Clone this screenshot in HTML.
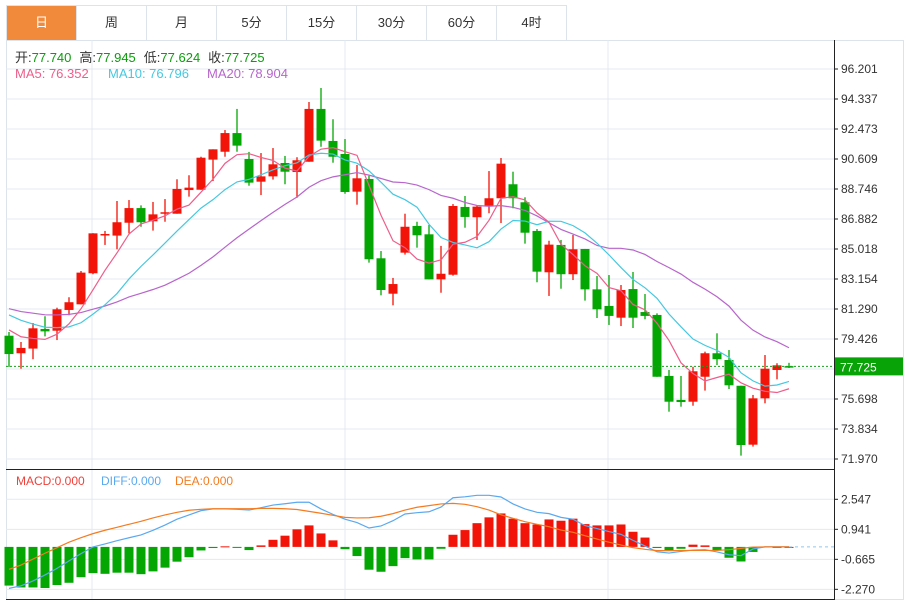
<!DOCTYPE html>
<html><head><meta charset="utf-8">
<style>
body{margin:0;background:#fff;width:911px;height:602px;overflow:hidden;font-family:"Liberation Sans","Noto Sans CJK SC",sans-serif;}
#tabs{position:absolute;left:6px;top:5px;height:35px;display:flex;}
.tab{width:69px;height:34px;border:1px solid #dde3ea;border-left:none;text-align:center;line-height:34px;font-size:13px;color:#333;background:#fff;}
.tab.first{background:#f28a3c;color:#fff;border-left:1px solid #dde3ea;}
svg{position:absolute;left:0;top:0;}
</style></head><body>
<div id="tabs">
<div class="tab first">日</div>
<div class="tab">周</div>
<div class="tab">月</div>
<div class="tab">5分</div>
<div class="tab">15分</div>
<div class="tab">30分</div>
<div class="tab">60分</div>
<div class="tab">4时</div>
</div>
<svg id="chart" width="911" height="602"></svg>
<script>
const opens=[79.63,78.54,78.83,80.05,79.94,81.23,81.58,83.51,85.87,85.85,86.65,87.56,86.74,87.21,87.21,88.68,88.70,90.57,91.06,92.22,90.61,89.20,89.53,90.36,89.80,90.44,93.72,91.73,90.92,88.58,89.37,84.44,82.24,84.79,86.45,85.93,83.13,83.42,87.63,86.99,87.71,88.17,89.04,87.92,86.14,83.57,85.27,83.45,85.02,82.51,81.48,80.75,82.53,81.10,80.92,77.13,75.64,75.53,77.08,78.54,78.12,76.52,72.86,75.74,77.50,77.740];
const highs=[79.86,79.24,80.42,80.84,81.37,82.02,83.65,86.00,86.14,88.00,88.06,87.73,87.94,88.12,89.35,89.60,90.75,91.21,92.41,93.72,91.05,90.98,91.29,90.80,90.72,94.15,95.02,93.08,91.85,90.24,89.57,84.89,83.22,87.21,86.71,86.51,85.21,87.81,88.31,87.69,89.86,90.67,89.82,88.23,86.26,85.53,85.58,85.89,85.02,83.34,83.40,82.78,83.59,82.22,81.02,77.50,77.13,77.70,78.64,79.78,78.74,76.52,75.95,78.43,77.92,77.945];
const lows=[77.69,77.58,78.17,79.59,79.36,80.90,81.58,83.45,85.27,85.00,85.99,86.40,86.16,86.71,87.21,88.27,88.70,89.24,90.75,91.06,88.95,88.37,89.33,89.04,88.20,90.44,91.37,90.38,88.45,87.77,84.17,82.14,81.52,84.67,85.10,83.13,82.30,83.36,86.34,85.58,87.24,86.63,87.55,85.35,82.95,82.10,82.55,83.09,81.81,80.73,80.30,80.23,80.11,80.65,77.08,74.91,75.22,75.28,76.22,77.81,76.32,72.18,72.74,75.43,76.92,77.624];
const closes=[78.49,78.87,80.09,79.90,81.27,81.71,83.55,85.99,85.95,86.68,87.56,86.68,87.17,87.30,88.75,88.83,90.69,91.21,92.22,91.44,89.14,89.53,90.28,89.82,90.53,93.72,91.75,90.75,88.56,89.41,84.38,82.47,82.84,86.40,85.87,83.13,83.48,87.69,87.01,87.65,88.17,90.32,88.17,86.03,83.61,85.29,83.45,85.00,82.51,81.27,80.86,82.47,80.75,80.86,77.08,75.53,75.51,77.42,78.54,78.17,76.55,72.84,75.74,77.58,77.79,77.725];
const priorCloses=[82.5,82.1,81.9,81.4,81.0,81.3,81.8,82.0,81.6,81.4,82.2,82.4,81.9,81.5,81.25,81.0,80.6,80.2,79.66];
const macdHist=[-2.07,-2.17,-2.17,-2.2,-2.04,-1.92,-1.62,-1.40,-1.44,-1.38,-1.38,-1.46,-1.31,-1.11,-0.79,-0.55,-0.19,-0.06,0.03,-0.05,-0.17,0.08,0.38,0.6,0.94,1.15,0.72,0.35,-0.12,-0.49,-1.22,-1.33,-1.03,-0.6,-0.67,-0.67,-0.1,0.65,0.9,1.27,1.58,1.79,1.51,1.27,1.2,1.47,1.40,1.51,1.22,1.15,1.15,1.2,0.81,0.5,-0.06,-0.2,-0.1,0.12,0.08,-0.19,-0.58,-0.78,-0.27,0.02,0,0];
const diffLine=[-2.22,-2.08,-1.82,-1.50,-1.15,-0.75,-0.36,0,0.16,0.33,0.49,0.64,0.89,1.17,1.48,1.71,1.94,2.03,2.03,2.01,1.97,2.10,2.24,2.31,2.39,2.39,2.03,1.74,1.48,1.30,1.01,1.12,1.40,1.76,1.83,1.88,2.13,2.63,2.68,2.76,2.76,2.67,2.30,2.03,1.85,1.78,1.58,1.48,1.14,0.98,0.82,0.67,0.35,0.05,-0.26,-0.33,-0.24,-0.17,-0.15,-0.27,-0.42,-0.47,-0.11,0,0,0];
const deaLine=[-1.20,-0.97,-0.65,-0.34,-0.04,0.25,0.49,0.71,0.89,1.05,1.21,1.37,1.55,1.71,1.85,1.96,2.01,2.04,2.04,2.04,2.04,2.06,2.06,2.04,2.0,1.9,1.80,1.69,1.58,1.55,1.56,1.64,1.78,1.97,2.12,2.21,2.30,2.33,2.28,2.15,1.97,1.72,1.53,1.35,1.21,1.08,0.90,0.78,0.60,0.42,0.25,0.10,-0.04,-0.13,-0.2,-0.2,-0.19,-0.19,-0.19,-0.19,-0.15,-0.08,-0.01,0,0,0];
const priceTicks=[96.201,94.337,92.473,90.609,88.746,86.882,85.018,83.154,81.290,79.426,77.562,75.698,73.834,71.970];
const macdTicks=[2.547,0.941,-0.665,-2.270];

const NS='http://www.w3.org/2000/svg';
const svg=document.getElementById('chart');
function mk(tag,attrs,parent){const e=document.createElementNS(NS,tag);for(const k in attrs)e.setAttribute(k,attrs[k]);(parent||svg).appendChild(e);return e;}
const PTOP=96.201,PBOT=71.970,Y0=69,Y1=459;
function yP(v){return Y0+(PTOP-v)/(PTOP-PBOT)*(Y1-Y0);}
const MZ=546.9,MS=18.69;
function yM(v){return MZ-v*MS;}
function xI(i){return 9+12*i;}

// frame
let g=mk('g',{});


mk('rect',{x:6.5,y:40.5,width:897,height:559,fill:'none',stroke:'#dde3ea'},g);
[92,345,608].forEach(x=>mk('line',{x1:x,y1:40,x2:x,y2:599,stroke:'#e3eaf0'},g));
priceTicks.forEach(v=>mk('line',{x1:6,y1:yP(v),x2:834,y2:yP(v),stroke:'#e3eaf0'},g));
macdTicks.forEach(v=>mk('line',{x1:6,y1:yM(v),x2:834,y2:yM(v),stroke:'#e3eaf0'},g));
mk('line',{x1:6,y1:469.5,x2:834,y2:469.5,stroke:'#222'},g);
mk('line',{x1:6,y1:599.5,x2:834,y2:599.5,stroke:'#222'},g);
mk('line',{x1:834.5,y1:40,x2:834.5,y2:600,stroke:'#222'},g);

// axis labels
const ax=mk('g',{'font-size':'12','fill':'#333','font-family':'Liberation Sans, sans-serif'});


priceTicks.forEach(v=>{mk('line',{x1:834,y1:yP(v),x2:838,y2:yP(v),stroke:'#222'},ax);const t=mk('text',{x:841,y:yP(v)+4},ax);t.textContent=v.toFixed(3);});
const axm=mk('g',{'font-size':'12','fill':'#333','font-family':'Liberation Sans, sans-serif'});


macdTicks.forEach(v=>{mk('line',{x1:834,y1:yM(v),x2:838,y2:yM(v),stroke:'#222'},axm);const t=mk('text',{x:841,y:yM(v)+4},axm);t.textContent=v.toFixed(3);});

// candles
const RED='#f21409',GRN='#04a604';
const cg=mk('g',{});


for(let i=0;i<closes.length;i++){
  const up=closes[i]>=opens[i],c=up?RED:GRN,x=xI(i);
  const k=mk('g',{},cg);
  
  
  mk('line',{x1:x,y1:yP(highs[i]),x2:x,y2:yP(lows[i]),stroke:c,'stroke-width':1.3},k);
  const t=yP(Math.max(opens[i],closes[i])),b=yP(Math.min(opens[i],closes[i]));
  mk('rect',{x:x-4.5,y:t,width:9,height:Math.max(1.5,b-t),fill:c},k);
}
// MAs
const allC=priorCloses.concat(closes);
function ma(n){const r=[];for(let i=0;i<closes.length;i++){let s=0;const j=i+priorCloses.length;for(let k=0;k<n;k++)s+=allC[j-k];r.push(s/n);}return r;}
function line(arr,yf,color,name,w){const p=mk('polyline',{points:arr.map((v,i)=>xI(i)+','+yf(v)).join(' '),fill:'none',stroke:color,'stroke-width':w||1.2});return p;}
const ma5=ma(5),ma10=ma(10),ma20=ma(20);
line(ma20,yP,'#b865cc','ma20-line');
line(ma10,yP,'#45c8e0','ma10-line');
line(ma5,yP,'#ee5e8a','ma5-line');

// last price
const lastY=yP(closes[closes.length-1]);
const lp=mk('line',{x1:6,y1:lastY,x2:834,y2:lastY,stroke:'#1a9e1a','stroke-dasharray':'2,2'});


const lb=mk('rect',{x:835,y:lastY-9,width:68,height:18,fill:'#07a307'});


const lt=mk('text',{x:840,y:lastY+5,fill:'#fff','font-size':'12'});
lt.textContent=closes[closes.length-1].toFixed(3);

// MACD hist
const hg=mk('g',{});


macdHist.forEach((v,i)=>{const y=yM(v);const b=mk('rect',{x:xI(i)-4.5,y:Math.min(y,MZ),width:9,height:Math.max(1,Math.abs(y-MZ)),fill:v>=0?RED:GRN},hg);});
line(diffLine,yM,'#5aa9ef','diff-line');
line(deaLine,yM,'#f57b20','dea-line');
const zl=mk('line',{x1:xI(macdHist.length-1),y1:MZ,x2:834,y2:MZ,stroke:'#8fc8ea','stroke-dasharray':'3,3'});



// legends
function txt(x,y,s,c,name,sz){const t=mk('text',{x:x,y:y,fill:c,'font-size':sz||13,'font-family':'Liberation Sans, Noto Sans CJK SC, sans-serif'});t.textContent=s;return t;}
const lg=mk('text',{x:15,y:62,'font-size':13,'font-family':'Liberation Sans, Noto Sans CJK SC, sans-serif',fill:'#333'});


lg.innerHTML='<tspan>开:</tspan><tspan fill="#0a9e0a">77.740</tspan><tspan dx="8">高:</tspan><tspan fill="#0a9e0a">77.945</tspan><tspan dx="8">低:</tspan><tspan fill="#0a9e0a">77.624</tspan><tspan dx="8">收:</tspan><tspan fill="#0a9e0a">77.725</tspan>';
txt(15,78,'MA5: 76.352','#ee5e8a','ma5-legend');
txt(108,78,'MA10: 76.796','#45c8e0','ma10-legend');
txt(207,78,'MA20: 78.904','#b865cc','ma20-legend');
txt(16,485,'MACD:0.000','#f0403a','macd-legend',12);
txt(101,485,'DIFF:0.000','#5aa9ef','diff-legend',12);
txt(175,485,'DEA:0.000','#f57b20','dea-legend',12);
</script>
</body></html>
